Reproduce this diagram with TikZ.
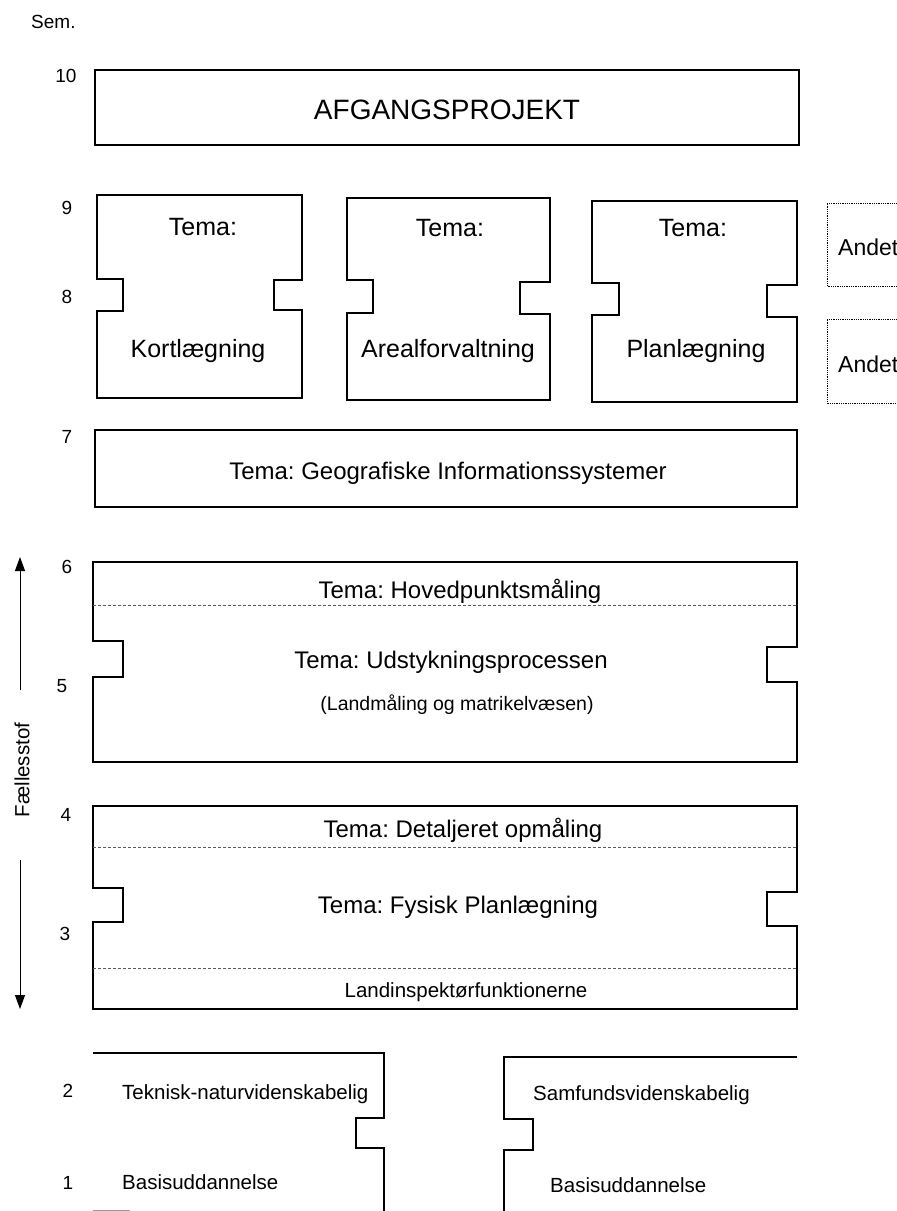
\documentclass[tikz,border=0pt]{standalone}
\usepackage{fontspec}
\setmainfont{Liberation Sans}
\usetikzlibrary{arrows.meta}
\frenchspacing
\begin{document}
\begin{tikzpicture}[x=1pt,y=-1pt,
  box/.style={line width=1.4pt, line join=miter},
  sepline/.style={line width=0.6pt, densely dashed, black!65},
  andetbox/.style={line width=0.8pt, densely dotted},
  bigtxt/.style={font=\fontsize{28}{32}\selectfont},
  medtxt/.style={font=\fontsize{24}{28}\selectfont, anchor=base, inner sep=0pt},
  themetxt/.style={font=\fontsize{25}{29}\selectfont, anchor=base, inner sep=0pt},
  smalltxt/.style={font=\fontsize{20.5}{24}\selectfont, anchor=base, inner sep=0pt},
  numtxt/.style={font=\fontsize{19}{22}\selectfont, inner sep=0pt},
  farrow/.style={line width=1pt, -{Triangle[length=14pt,width=10pt]}}
]
\useasboundingbox (0,0) rectangle (897,1211);

% semester labels
\node[numtxt, anchor=base west] (sem) at (31,28) {Sem.};
\node[numtxt] (s10) at (66,76) {10};
\node[numtxt] (s9) at (67,208) {9};
\node[numtxt] (s8) at (67,297) {8};
\node[numtxt] (s7) at (67,437) {7};
\node[numtxt] (s6) at (67,567) {6};
\node[numtxt] (s5) at (62,686) {5};
\node[numtxt] (s4) at (66,815) {4};
\node[numtxt] (s3) at (65,934) {3};
\node[numtxt] (s2) at (68,1091) {2};
\node[numtxt] (s1) at (68,1183) {1};

% Faellesstof arrow
\node[font=\fontsize{20.5}{24}\selectfont, rotate=90, inner sep=0pt] (faelles) at (22,770) {Fællesstof};
\coordinate (upS) at (20,690);
\coordinate (upE) at (20,557);
\coordinate (dnS) at (20,860);
\coordinate (dnE) at (20,1009);
\draw[farrow] (upS) -- (upE);
\draw[farrow] (dnS) -- (dnE);

% semester 10
\draw[box] (95,70) rectangle (799,145);
\node[bigtxt] (afg) at (447,110) {AFGANGSPROJEKT};

% semester 9/8 theme boxes
\draw[box] (97,195) -- (302,195) -- (302,280) -- (274,280) -- (274,310) -- (302,310)
  -- (302,398) -- (97,398) -- (97,311) -- (123,311) -- (123,279) -- (97,279) -- cycle;
\node[themetxt] (t1a) at (203,235) {Tema:};
\node[themetxt] (t1b) at (198,357) {Kortlægning};

\draw[box] (347,198) -- (550,198) -- (550,282) -- (520,282) -- (520,314) -- (550,314)
  -- (550,400) -- (347,400) -- (347,313) -- (373,313) -- (373,280) -- (347,280) -- cycle;
\node[themetxt] (t2a) at (450,236) {Tema:};
\node[themetxt] (t2b) at (448,357) {Arealforvaltning};

\draw[box] (592,201) -- (797,201) -- (797,285) -- (767,285) -- (767,317) -- (797,317)
  -- (797,402) -- (592,402) -- (592,315) -- (619,315) -- (619,283) -- (592,283) -- cycle;
\node[themetxt] (t3a) at (693,236) {Tema:};
\node[themetxt] (t3b) at (696,357) {Planlægning};

% Andet (dotted)
\draw[andetbox] (900,203) -- (827,203) -- (827,286) -- (900,286);
\draw[andetbox] (900,319) -- (827,319) -- (827,403) -- (900,403);
\node[font=\fontsize{23}{27}\selectfont, anchor=base west, inner sep=0pt] (and1) at (838,255) {Andet};
\node[font=\fontsize{23}{27}\selectfont, anchor=base west, inner sep=0pt] (and2) at (838,372) {Andet};

% semester 7
\draw[box] (95,430) rectangle (797,507);
\node[medtxt] (gis) at (448,479) {Tema: Geografiske Informationssystemer};

% semester 6/5
\draw[box] (93,562) -- (797,562) -- (797,647) -- (767,647) -- (767,682) -- (797,682)
  -- (797,762) -- (93,762) -- (93,677) -- (123,677) -- (123,641) -- (93,641) -- cycle;
\draw[sepline] (93,605) -- (797,605);
\node[medtxt] (hov) at (460,598) {Tema: Hovedpunktsmåling};
\node[medtxt] (udst) at (451,668) {Tema: Udstykningsprocessen};
\node[smalltxt, font=\fontsize{19.5}{23}\selectfont] (landm) at (457,710) {(Landmåling og matrikelvæsen)};

% semester 4/3
\draw[box] (93,806) -- (797,806) -- (797,892) -- (767,892) -- (767,926) -- (797,926)
  -- (797,1009) -- (93,1009) -- (93,922) -- (123,922) -- (123,888) -- (93,888) -- cycle;
\draw[sepline] (93,847) -- (797,847);
\draw[sepline] (93,968) -- (797,968);
\node[medtxt] (det) at (463,837) {Tema: Detaljeret opmåling};
\node[medtxt] (fys) at (458,913) {Tema: Fysisk Planlægning};
\node[smalltxt] (linsp) at (466,997) {Landinspektørfunktionerne};

% semester 2/1
\draw[box] (93,1053) -- (384,1053) -- (384,1118) -- (356,1118) -- (356,1148) -- (384,1148) -- (384,1212);
\draw[line width=1pt, black!40] (93,1210) -- (130,1210);
\node[smalltxt, anchor=base west] (tek) at (122,1099) {Teknisk-naturvidenskabelig};
\node[smalltxt, anchor=base west] (bas1) at (122,1189) {Basisuddannelse};

\draw[box] (797,1057) -- (504,1057) -- (504,1119) -- (533,1119) -- (533,1150) -- (504,1150) -- (504,1212);
\node[smalltxt, anchor=base west] (samf) at (533,1100) {Samfundsvidenskabelig};
\node[smalltxt, anchor=base west] (bas2) at (550,1192) {Basisuddannelse};
\end{tikzpicture}
\end{document}
